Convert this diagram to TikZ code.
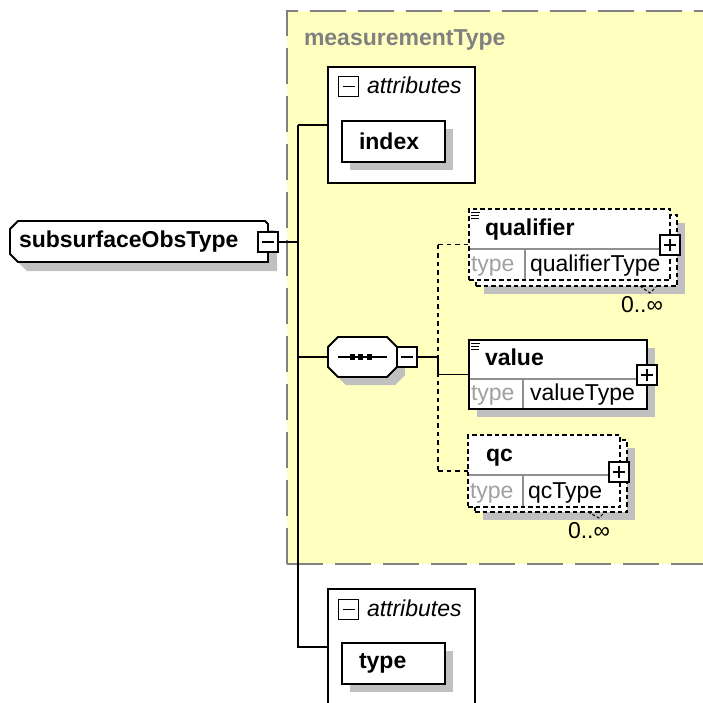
\documentclass[tikz,border=0pt]{standalone}
\usepackage{fontspec}
\setmainfont{Liberation Sans}
\usetikzlibrary{shadows}
\definecolor{bgyellow}{HTML}{FFFFC0}
\definecolor{shadecol}{HTML}{C0C0C0}
\definecolor{framegray}{HTML}{808080}
\definecolor{typegray}{HTML}{A0A0A0}
\definecolor{divgray}{HTML}{909090}
\newcommand\pmminus[2]{\node[pmbox] (#1) at (#2) {};
  \draw[line width=1.4pt] ([xshift=4pt]#1.west) -- ([xshift=-4pt]#1.east);}
\newcommand\pmplus[2]{\pmminus{#1}{#2}\draw[line width=1.4pt] ([yshift=-4pt]#1.north) -- ([yshift=4pt]#1.south);}
\begin{document}
\begin{tikzpicture}[x=1pt,y=-1pt,line width=1.6pt,
  every node/.style={inner sep=0pt, outer sep=0pt},
  fnt/.style={font=\fontsize{23}{27}\selectfont},
  bfnt/.style={font=\fontsize{23}{27}\selectfont\bfseries},
  itfnt/.style={font=\fontsize{23}{27}\selectfont\itshape},
  shad/.style={drop shadow={shadow xshift=#1, shadow yshift=-#1, fill=shadecol, opacity=1}},
  pmbox/.style={draw, fill=white, minimum size=20pt, line width=1.6pt},
  group/.style={fill=bgyellow, draw=framegray, line width=2pt, dash pattern=on 36pt off 12pt, anchor=north west},
  attrgrp/.style={draw, fill=white, line width=1.8pt, minimum width=147pt, minimum height=116pt, anchor=north west},
  attrbox/.style={draw, fill=white, line width=1.8pt, shad=8pt, minimum width=103pt, minimum height=41pt, text width=69pt, inner xsep=17pt, align=left, bfnt, anchor=north west},
  elem/.style={draw, fill=white, line width=1.8pt, anchor=north west},
  optelem/.style={elem, dash pattern=on 4.5pt off 3pt},
  optconn/.style={dash pattern=on 4.5pt off 4pt},
  divider/.style={draw=divgray, line width=1.3pt},
  typelbl/.style={fnt, text=typegray, anchor=base west},
  typename/.style={fnt, anchor=base west},
  elname/.style={bfnt, anchor=base west},
  occurs/.style={fnt, anchor=base west},
  menuicon/.style={line width=1pt},
  notch/.style={line width=1pt, dash pattern=on 3pt off 2pt},
  outline/.style={draw, fill=white, line width=1.8pt, line join=miter},
]
\useasboundingbox (0,0) rectangle (703,702);
% group box
\node[group, minimum width=425pt, minimum height=553pt] (G) at (287,11) {};
\node[bfnt, text=framegray, anchor=base west] (Gt) at (304,45) {measurementType};

% root element (octagon-like outline drawn from the node's anchors)
\node[minimum width=258pt, minimum height=41pt, anchor=west] (S) at (10,241.5) {};
\path[outline, shad=9pt] ([xshift=8pt]S.north west) -- ([xshift=-3pt]S.north east)
   -- ([yshift=-3pt]S.north east) -- (S.south east) -- ([xshift=8pt]S.south west)
   -- ([yshift=8pt]S.south west) -- ([yshift=-8pt]S.north west) -- cycle;
\node[bfnt, anchor=base west] (St) at (19,247) {subsurfaceObsType};
\pmminus{Sm}{268,242}

% attributes (top)
\node[attrgrp] (A1) at (328,67) {};
\pmminus{A1m}{348.5,86.5}
\node[itfnt, anchor=base west] (A1t) at (367,93.5) {attributes};
\node[attrbox] (I1) at (342,121) {index};

% sequence compositor
\node[minimum width=69pt, minimum height=40pt] (C) at (362.5,357) {};
\path[outline, shad=8pt] ([xshift=10pt]C.north west) -- ([xshift=-10pt]C.north east)
   -- ([yshift=-10pt]C.north east) -- ([yshift=10pt]C.south east)
   -- ([xshift=-10pt]C.south east) -- ([xshift=10pt]C.south west)
   -- ([yshift=10pt]C.south west) -- ([yshift=-10pt]C.north west) -- cycle;
\draw ([xshift=10pt]C.west) -- ([xshift=-10pt]C.east);
\foreach \dx in {-10,-2,7} \fill ([xshift=\dx pt]C.center) +(-2.8,-2.8) rectangle +(2.8,2.8);
\pmminus{Cm}{407,357}

% qualifier (optional, repeating)
\node[optelem, shad=8pt, minimum width=201pt, minimum height=71pt] (Qb) at (476,215) {};
\node[optelem, minimum width=201pt, minimum height=71pt] (Q) at (469,209) {};
\draw[divider] (470,249) -- (669,249) (525,249) -- (525,279);
\draw[menuicon] (471,212.5) -- (480,212.5) (471,215.5) -- (479,215.5) (471,218.5) -- (479,218.5);
\node[elname] (Qn) at (485,235) {qualifier};
\node[typelbl] (Qt) at (471,271.5) {type};
\node[typename] (Qtn) at (530,271.5) {qualifierType};
\pmplus{Qp}{670,245}
\draw[notch] (640,286) -- (650,293) -- (656,287);
\node[occurs] (Qo) at (621,312.5) {0..∞};

% value
\node[elem, shad=8pt, minimum width=178pt, minimum height=69pt] (V) at (469,340) {};
\draw[divider] (470,379) -- (646,379) (523,379) -- (523,408);
\draw[menuicon] (471,343) -- (480,343) (471,346) -- (479,346) (471,349) -- (479,349);
\node[elname] (Vn) at (485,365) {value};
\node[typelbl] (Vt) at (471,400) {type};
\node[typename] (Vtn) at (530,400) {valueType};
\pmplus{Vp}{647,375}

% qc (optional, repeating)
\node[optelem, shad=8pt, minimum width=152pt, minimum height=72pt] (QCb) at (475,440) {};
\node[optelem, minimum width=152pt, minimum height=72pt] (QC) at (468,435) {};
\draw[divider] (469,475) -- (619,475) (523,475) -- (523,506);
\node[elname] (QCn) at (486,461.5) {qc};
\node[typelbl] (QCt) at (470,498) {type};
\node[typename] (QCtn) at (528,498) {qcType};
\pmplus{QCp}{619,472}
\draw[notch] (588,512) -- (599,518) -- (605,512);
\node[occurs] (QCo) at (568,538) {0..∞};

% attributes (bottom)
\node[attrgrp] (A2) at (328,589) {};
\pmminus{A2m}{348.5,609.5}
\node[itfnt, anchor=base west] (A2t) at (367,616) {attributes};
\node[attrbox] (I2) at (342,643) {type};

% connectors
\coordinate (T1) at (298,125);
\coordinate (J) at (438,357);
\draw (A1.west -| T1) -- (A1.west);
\draw (A1.west -| T1) -- (A2.west -| T1) -- (A2.west);
\draw (Sm.east) -- (Sm.east -| T1);
\draw (C.west -| T1) -- (C.west);
\draw (Cm.east) -- (J);
\draw (J) -- (J |- V.west) -- (V.west);
\draw[optconn] (Q.west -| J) -- (QC.west -| J);
\draw[optconn] (Q.west -| J) -- (Q.west);
\draw[optconn] (QC.west -| J) -- (QC.west);
\end{tikzpicture}
\end{document}
